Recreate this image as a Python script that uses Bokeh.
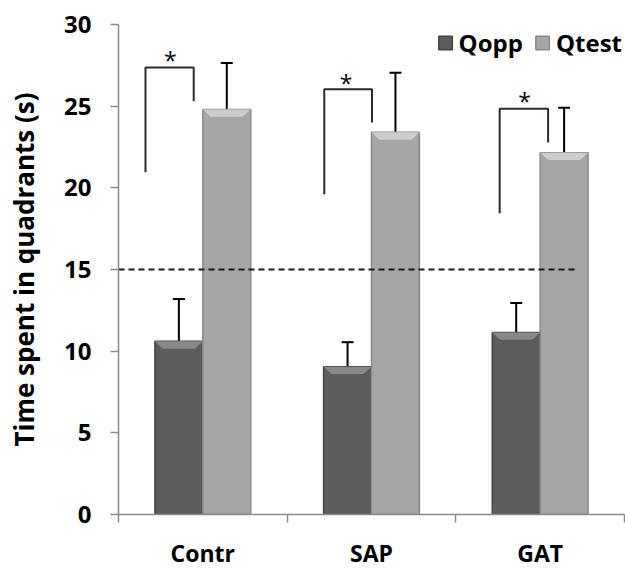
import numpy as np
from bokeh.plotting import figure
from bokeh.models import (Range1d, FixedTicker, LinearAxis, ColumnDataSource,
                          Whisker, TeeHead, Legend, LegendItem)
from bokeh.core.properties import value
from bokeh.embed import file_html
from bokeh.resources import INLINE

# ---------------- data ----------------
categories = ["Contr", "SAP", "GAT"]
series = ["Qopp", "Qtest"]
qopp_mean = [10.6, 9.05, 11.15]
qopp_lower = [8.0, 7.5, 9.35]
qopp_upper = [13.2, 10.55, 12.95]
qtest_mean = [24.8, 23.4, 22.15]
qtest_lower = [21.95, 19.7, 19.35]
qtest_upper = [27.65, 27.05, 24.9]
y_ticks = [0, 5, 10, 15, 20, 25, 30]
chance_level = 15
chance_x = [0.0, 2.72]
sig_label = "*"
# significance brackets, in category units / seconds
bracket_left = [0.16, 1.22, 2.26]
bracket_right = [0.446, 1.503, 2.547]
bracket_top = [27.36, 26.04, 24.84]
bracket_left_bottom = [20.95, 19.6, 18.44]
bracket_right_bottom = [25.3, 24.0, 22.78]
star_x = [0.308, 1.35, 2.407]
star_y = [28.4, 27.0, 25.84]

FONT = "Open Sans"
AXIS_GRAY = "#8a8a8a"

n = len(categories)
centers = np.arange(n) + 0.5
bar_w = 0.284
x_opp = centers - bar_w / 2
x_test = centers + bar_w / 2

p = figure(width=625, height=571, x_range=Range1d(0, n), y_range=Range1d(0, 30),
           output_backend="svg", toolbar_location=None,
           x_axis_location=None, y_axis_location=None,
           min_border_left=118, min_border_right=1, min_border_top=24,
           min_border_bottom=50)
p.grid.visible = False
p.outline_line_color = None
p.background_fill_color = "white"

# ---- axes ----
yax = LinearAxis(ticker=FixedTicker(ticks=y_ticks))
yax.axis_label = "Time spent in quadrants (s)"
yax.axis_label_text_font = FONT
yax.axis_label_text_font_style = "bold"
yax.axis_label_text_font_size = "26px"
yax.axis_label_text_color = "black"
yax.axis_label_standoff = 19
yax.major_label_text_font = FONT
yax.major_label_text_font_style = "bold"
yax.major_label_text_font_size = "24px"
yax.major_label_text_color = "black"
yax.major_label_standoff = 19
yax.major_tick_in = 0
yax.major_tick_out = 8
yax.minor_tick_line_color = None
yax.axis_line_color = AXIS_GRAY
yax.axis_line_width = 1.5
yax.major_tick_line_color = AXIS_GRAY
yax.major_tick_line_width = 1.5
p.add_layout(yax, "left")

label_pos = [float(c) for c in centers]
xax = LinearAxis(ticker=FixedTicker(ticks=label_pos, minor_ticks=list(range(n + 1))))
xax.major_label_overrides = {float(c): lab for c, lab in zip(centers, categories)}
xax.major_label_text_font = FONT
xax.major_label_text_font_style = "bold"
xax.major_label_text_font_size = "23px"
xax.major_label_text_color = "black"
xax.major_label_standoff = 14
xax.major_tick_line_color = None
xax.major_tick_in = 0
xax.major_tick_out = 0
xax.minor_tick_in = 0
xax.minor_tick_out = 8
xax.minor_tick_line_color = AXIS_GRAY
xax.minor_tick_line_width = 1.5
xax.axis_line_color = AXIS_GRAY
xax.axis_line_width = 1.5
p.add_layout(xax, "below")

# ---- bars ----
src = ColumnDataSource(dict(x_opp=x_opp, x_test=x_test,
                            qopp=qopp_mean, qtest=qtest_mean,
                            qopp_lo=qopp_lower, qopp_hi=qopp_upper,
                            qtest_lo=qtest_lower, qtest_hi=qtest_upper))
r_opp = p.vbar(x="x_opp", top="qopp", width=bar_w, source=src,
               fill_color="#5c5c5c", line_color="#454545", line_width=1.5)
r_test = p.vbar(x="x_test", top="qtest", width=bar_w, source=src,
                fill_color="#a6a6a6", line_color="#8a8a8a", line_width=1.5)

# bevel highlight on the top of each bar
dx, dy = 0.047, 0.45
def bevel(xc, tops):
    xs, ys = [], []
    for x, t in zip(xc, tops):
        xs.append([x - bar_w / 2, x + bar_w / 2, x + bar_w / 2 - dx, x - bar_w / 2 + dx])
        ys.append([t, t, t - dy, t - dy])
    return xs, ys
bx, by = bevel(x_opp, qopp_mean)
p.patches(bx, by, fill_color="#888888", line_color=None)
bx, by = bevel(x_test, qtest_mean)
p.patches(bx, by, fill_color="#cdcdcd", line_color=None)

# ---- chance level ----
p.line(chance_x, [chance_level, chance_level], line_color="#1a1a1a",
       line_width=2, line_dash="6 4")

# ---- error bars ----
for lo, hi, xname in (("qopp_lo", "qopp_hi", "x_opp"), ("qtest_lo", "qtest_hi", "x_test")):
    w = Whisker(source=src, base=xname, lower=lo, upper=hi, dimension="height",
                line_color="black", line_width=2,
                upper_head=TeeHead(size=12, line_color="black", line_width=2),
                lower_head=TeeHead(size=12, line_color="black", line_width=2))
    p.add_layout(w)

# ---- significance brackets ----
bxs = [[l, l, r, r] for l, r in zip(bracket_left, bracket_right)]
bys = [[lb, t, t, rb] for lb, t, rb in zip(bracket_left_bottom, bracket_top, bracket_right_bottom)]
p.multi_line(bxs, bys, line_color="#2b2b2b", line_width=2)
p.text(x=star_x, y=star_y, text=[sig_label] * n, text_font=value(FONT),
       text_font_size="23px", text_align="center",
       text_baseline="alphabetic", y_offset=9, text_color="black")

# ---- legend ----
legend = Legend(items=[LegendItem(label=series[0], renderers=[r_opp]),
                       LegendItem(label=series[1], renderers=[r_test])],
                orientation="horizontal", location="top_right",
                glyph_width=17, glyph_height=17, label_standoff=5, spacing=11,
                padding=0, margin=2, border_line_color=None,
                background_fill_alpha=0,
                label_text_font=FONT, label_text_font_style="bold",
                label_text_font_size="24px", label_text_color="black")
p.add_layout(legend)

open("out.html", "w").write(file_html(p, INLINE))
